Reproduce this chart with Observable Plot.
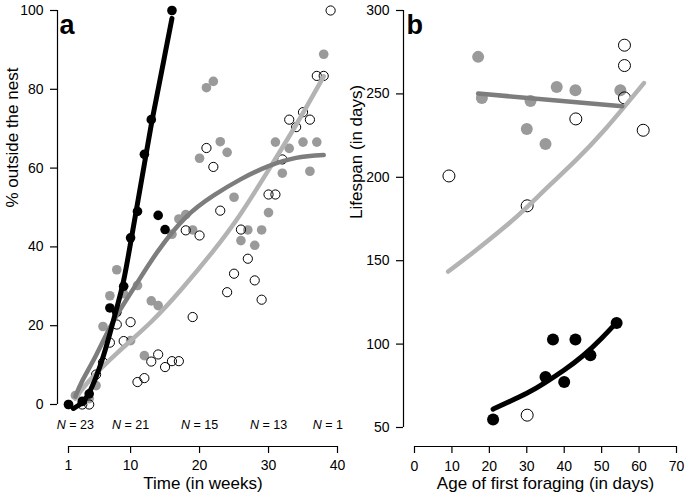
<!DOCTYPE html>
<html><head><meta charset="utf-8">
<script src="https://cdn.jsdelivr.net/npm/d3@7"></script>
<script src="https://cdn.jsdelivr.net/npm/@observablehq/plot@0.6"></script>
<style>
body{margin:0;background:#fff;}
#wrap{display:flex;width:685px;height:496px;overflow:hidden;}
</style></head><body><div id="wrap"></div>
<script>
// ---------- Panel a: % outside the nest vs time (weeks) ----------
const xTicksA = [1, 10, 20, 30, 40];
const yTicksA = [0, 20, 40, 60, 80, 100];

const blackWeeks = [1, 3, 4, 7, 8, 9, 10, 11, 12, 13, 14, 15, 16];
const blackPct   = [0, 0.8, 2.7, 24.5, 23.4, 30, 42.3, 49, 63.5, 72.3, 48, 44.4, 100];

const grayWeeks = [1, 2, 4, 5, 6, 7, 8, 9, 10, 11, 12, 13, 14, 16, 17, 18, 19, 20, 21, 22, 23, 24, 25, 26, 27, 28, 29, 30, 31, 32, 33, 35, 36, 37, 38];
const grayPct   = [0, 2.3, 1.5, 4.8, 19.8, 27.6, 34.2, 28.1, 16.2, 30.2, 12.4, 26.3, 25.1, 43.2, 47.1, 48.2, 44.3, 62.5, 80.4, 82, 66.7, 64, 52.6, 41.6, 44.3, 40.4, 44.3, 48.7, 66.6, 58.7, 65, 66.6, 59.2, 66.6, 88.9];

const openWeeks = [3, 4, 5, 6, 7, 8, 9, 10, 11, 12, 13, 14, 15, 16, 17, 18, 19, 20, 21, 22, 23, 24, 25, 26, 27, 28, 29, 30, 31, 32, 33, 34, 35, 36, 37, 38, 39];
const openPct   = [0, 0, 7.6, 10.7, 15.7, 20.3, 16.1, 20.9, 5.7, 6.7, 10.9, 12.7, 9.5, 11, 11, 44.2, 22.2, 42.9, 65.1, 60.3, 49.2, 28.5, 33.2, 44.4, 37, 31.5, 26.6, 53.3, 53.3, 62.2, 72.3, 70.4, 74.2, 72.3, 83.4, 83.4, 100];

// fitted curves
const blackFitW = [1.7, 3, 4, 5, 6, 7, 8, 9, 10, 11, 12, 13, 14, 15, 16];
const blackFitV = [-1, 0.5, 3, 7, 12, 18, 24.5, 31.5, 41, 51, 61, 71, 80, 89, 98];
const darkFitW = [2, 3, 5, 7, 9, 11, 14, 18, 22, 26, 30, 34, 38];
const darkFitV = [2, 6, 12.5, 19.5, 25.5, 31, 39, 47.5, 53, 57.2, 60.5, 62.6, 63.3];
const lightFitW = [2, 4, 8, 13, 17.5, 22, 26, 30, 34, 38];
const lightFitV = [1.5, 6, 13, 21, 29.5, 39, 48.5, 59.5, 71, 83.3];

const nLabelWeeks = [2, 10, 20, 30, 38.6];
const nLabelText  = ["N = 23", "N = 21", "N = 15", "N = 13", "N = 1"];

// ---------- Panel b: lifespan vs age of first foraging ----------
const xTicksB = [0, 10, 20, 30, 40, 50, 60, 70];
const yTicksB = [50, 100, 150, 200, 250, 300];

const grayAge  = [17, 18, 30, 31, 35, 38, 43, 55];
const grayLife = [272.2, 247.6, 229, 245.8, 220, 254.2, 252.2, 252.2];
const openAge  = [9.2, 30.1, 43.1, 56.1, 56.1, 56.1, 61.1, 30.1];
const openLife = [200.8, 182.9, 235, 279.2, 267, 247.6, 228.2, 57.4];
const blackAge  = [21, 35, 37, 40, 43, 47, 54];
const blackLife = [54.8, 80.3, 102.8, 77.3, 102.8, 93.3, 112.7];

const darkFitAge = [17, 55.5];
const darkFitLife = [250.2, 242.6];
const lightFitAge = [9, 16, 24, 30, 36, 43, 51, 61.3];
const lightFitLife = [143.5, 155.5, 170, 182, 195, 210, 229, 256.5];
const blackFitAge = [21, 30, 35, 40, 45, 50, 54];
const blackFitLife = [61, 70.5, 77, 84.5, 93, 103.5, 113];

// ---------- helpers ----------
const pts = (xs, ys) => xs.map((x, i) => ({x, y: ys[i]}));
const FONT = "'Liberation Sans', Arial, Helvetica, sans-serif";
const GRAY_DOT = "#9a9a9a", DARK_LINE = "#7d7d7d", LIGHT_LINE = "#b3b3b3";

const chartA = Plot.plot({
  width: 345, height: 496,
  marginLeft: 68, marginRight: 8, marginTop: 10, marginBottom: 92,
  x: {domain: [xTicksA[0], xTicksA[xTicksA.length - 1]]},
  y: {domain: [yTicksA[0], yTicksA[yTicksA.length - 1]]},
  style: {fontFamily: FONT, fontSize: "14px", color: "#000", background: "#fff", overflow: "visible"},
  marks: [
    Plot.ruleX([xTicksA[0]], {y1: yTicksA[0], y2: yTicksA[yTicksA.length - 1], dx: -11, stroke: "#000", strokeWidth: 1.2}),
    Plot.axisY({ticks: yTicksA, tickSize: 7, tickPadding: 7, dx: -11, label: null, strokeWidth: 1.2, fontSize: 14}),
    Plot.ruleY([yTicksA[0]], {x1: xTicksA[0], x2: xTicksA[xTicksA.length - 1], dy: 42, stroke: "#000", strokeWidth: 1.2}),
    Plot.axisX({ticks: xTicksA, tickSize: 7, tickPadding: 7, dy: 42, label: null, strokeWidth: 1.2, fontSize: 14}),
    Plot.dot(pts(grayWeeks, grayPct), {x: "x", y: "y", r: 4.8, fill: GRAY_DOT, stroke: "none"}),
    Plot.dot(pts(openWeeks, openPct), {x: "x", y: "y", r: 4.6, fill: "none", stroke: "#000", strokeWidth: 1}),
    Plot.dot(pts(blackWeeks, blackPct), {x: "x", y: "y", r: 4.8, fill: "#000", stroke: "none"}),
    Plot.line(pts(lightFitW, lightFitV), {x: "x", y: "y", stroke: LIGHT_LINE, strokeWidth: 4.5, curve: "natural", strokeLinecap: "round"}),
    Plot.line(pts(darkFitW, darkFitV), {x: "x", y: "y", stroke: DARK_LINE, strokeWidth: 4.5, curve: "natural", strokeLinecap: "round"}),
    Plot.line(pts(blackFitW, blackFitV), {x: "x", y: "y", stroke: "#000", strokeWidth: 5, curve: "natural", strokeLinecap: "round"}),
    Plot.text(nLabelText.map((t, i) => ({x: nLabelWeeks[i], t})), {x: "x", text: "t", frameAnchor: "bottom", dy: 24, fontSize: 12.5}),
    Plot.text(["Time (in weeks)"], {frameAnchor: "bottom", dy: 84, fontSize: 17}),
    Plot.text(["% outside the nest"], {frameAnchor: "left", rotate: -90, dx: -56, fontSize: 17}),
    Plot.text(["a"], {frameAnchor: "top-left", textAnchor: "start", dx: -9, dy: 4.5, fontSize: 27, fontWeight: "bold"})
  ]
});

const chartB = Plot.plot({
  width: 340, height: 496,
  marginLeft: 69, marginRight: 9, marginTop: 10, marginBottom: 69,
  x: {domain: [xTicksB[0], xTicksB[xTicksB.length - 1]]},
  y: {domain: [yTicksB[0], yTicksB[yTicksB.length - 1]]},
  style: {fontFamily: FONT, fontSize: "14px", color: "#000", background: "#fff", overflow: "visible"},
  marks: [
    Plot.ruleX([xTicksB[0]], {y1: yTicksB[0], y2: yTicksB[yTicksB.length - 1], dx: -11, stroke: "#000", strokeWidth: 1.2}),
    Plot.axisY({ticks: yTicksB, tickSize: 7, tickPadding: 7, dx: -11, label: null, strokeWidth: 1.2, fontSize: 14}),
    Plot.ruleY([yTicksB[0]], {x1: xTicksB[0], x2: xTicksB[xTicksB.length - 1], dy: 19, stroke: "#000", strokeWidth: 1.2}),
    Plot.axisX({ticks: xTicksB, tickSize: 7, tickPadding: 8, dy: 19, label: null, strokeWidth: 1.2, fontSize: 14}),
    Plot.dot(pts(grayAge, grayLife), {x: "x", y: "y", r: 6, fill: GRAY_DOT, stroke: "none"}),
    Plot.dot(pts(openAge, openLife), {x: "x", y: "y", r: 6, fill: "none", stroke: "#000", strokeWidth: 1}),
    Plot.dot(pts(blackAge, blackLife), {x: "x", y: "y", r: 6, fill: "#000", stroke: "none"}),
    Plot.line(pts(lightFitAge, lightFitLife), {x: "x", y: "y", stroke: LIGHT_LINE, strokeWidth: 4.5, curve: "natural", strokeLinecap: "round"}),
    Plot.line(pts(darkFitAge, darkFitLife), {x: "x", y: "y", stroke: DARK_LINE, strokeWidth: 4.5, strokeLinecap: "round"}),
    Plot.line(pts(blackFitAge, blackFitLife), {x: "x", y: "y", stroke: "#000", strokeWidth: 5, curve: "natural", strokeLinecap: "round"}),
    Plot.text(["Age of first foraging (in days)"], {frameAnchor: "bottom", dy: 61, fontSize: 17}),
    Plot.text(["Lifespan (in days)"], {frameAnchor: "left", rotate: -90, dx: -58, fontSize: 17}),
    Plot.text(["b"], {frameAnchor: "top-left", textAnchor: "start", dx: -8, dy: 4.5, fontSize: 27, fontWeight: "bold"})
  ]
});

// italic "N" in the sample-size labels
d3.select(chartA).selectAll("text").filter(function() { return /^N = /.test(this.textContent); })
  .each(function() {
    const rest = this.textContent.slice(1);
    const el = d3.select(this);
    el.text(null);
    el.append("tspan").attr("font-style", "italic").text("N");
    el.append("tspan").text(rest);
  });

const wrap = document.getElementById("wrap");
wrap.appendChild(chartA);
wrap.appendChild(chartB);
</script>
</body></html>
